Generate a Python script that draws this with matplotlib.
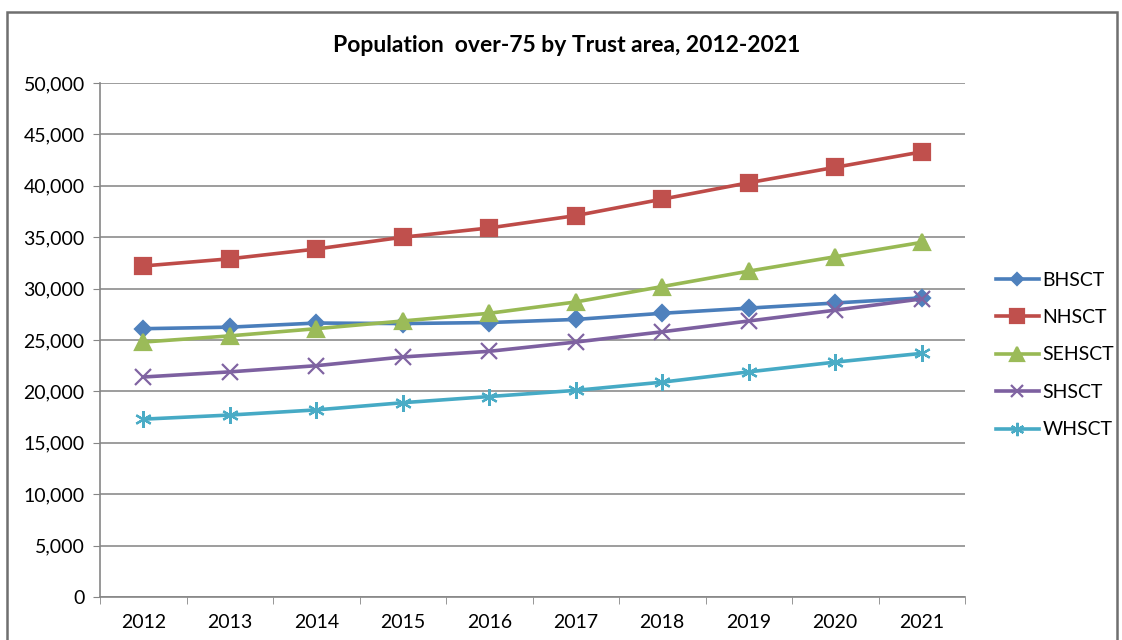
import matplotlib
matplotlib.use('Agg')
import matplotlib.pyplot as plt
from matplotlib.patches import Rectangle
from matplotlib.ticker import FuncFormatter, MultipleLocator, FixedLocator

plt.rcParams['font.family'] = ['Lato', 'DejaVu Sans']

years = ['2012', '2013', '2014', '2015', '2016', '2017', '2018', '2019', '2020', '2021']
bhsct = [26100, 26250, 26650, 26600, 26700, 27000, 27600, 28100, 28600, 29100]
nhsct = [32200, 32900, 33850, 35000, 35900, 37100, 38700, 40300, 41800, 43300]
sehsct = [24800, 25400, 26100, 26850, 27600, 28700, 30200, 31700, 33100, 34500]
shsct = [21400, 21900, 22500, 23350, 23900, 24800, 25800, 26850, 27900, 29000]
whsct = [17300, 17700, 18200, 18900, 19500, 20100, 20900, 21900, 22850, 23700]

series = [
    ('BHSCT', bhsct, '#4A7EBB', '#4F81BD', 'D', 8),
    ('NHSCT', nhsct, '#BE4B48', '#C0504D', 's', 12),
    ('SEHSCT', sehsct, '#98B954', '#9BBB59', '^', 12),
    ('SHSCT', shsct, '#7D60A0', '#8064A2', 'x', 11),
    ('WHSCT', whsct, '#46AAC5', '#4BACC6', (6, 2, 0), 12),
]

fig = plt.figure(figsize=(11.22, 6.4), dpi=100)
ax = fig.add_axes([100/1122, 1-597/640, 865/1122, 514/640])

x = list(range(len(years)))
for name, vals, lc, mc, mk, ms in series:
    ax.plot(x, vals, color=lc, lw=2.6, marker=mk, markersize=ms,
            markerfacecolor=mc, markeredgecolor=mc, markeredgewidth=1.6, label=name)

ax.set_xlim(-0.5, 9.5)
ax.set_ylim(0, 50000)
ax.yaxis.set_major_locator(MultipleLocator(5000))
ax.yaxis.set_major_formatter(FuncFormatter(lambda v, p: '{:,.0f}'.format(v)))
ax.set_xticks(x)
ax.set_xticklabels(years)
ax.xaxis.set_minor_locator(FixedLocator([i - 0.5 for i in range(11)]))
ax.tick_params(axis='x', which='major', length=0, labelsize=14, pad=12)
ax.tick_params(axis='x', which='minor', length=5, color='#868686')
ax.tick_params(axis='y', length=5, color='#868686', labelsize=14, pad=6)
ax.grid(axis='y', color='#8c8c8c', lw=1.2)
ax.set_axisbelow(True)
for s in ['top', 'right']:
    ax.spines[s].set_visible(False)
for s in ['left', 'bottom']:
    ax.spines[s].set_color('#868686')
    ax.spines[s].set_linewidth(1.2)

fig.text(0.505, 1-45/640, 'Population  over-75 by Trust area, 2012-2021',
         ha='center', va='center', fontsize=16.5, fontweight='bold')

fig.legend(loc='center left', bbox_to_anchor=(988/1122, 1-355/640), frameon=False,
           fontsize=14, handlelength=2.2, handletextpad=0.2, labelspacing=1.05,
           markerscale=0.8, borderaxespad=0.0)

fig.patches.append(Rectangle((7/1122, -0.1), 1110/1122, 1.1 - 12/640,
                             transform=fig.transFigure, fill=False,
                             edgecolor='#6f6f6f', lw=1.8))

fig.savefig('out.png', dpi=100)
